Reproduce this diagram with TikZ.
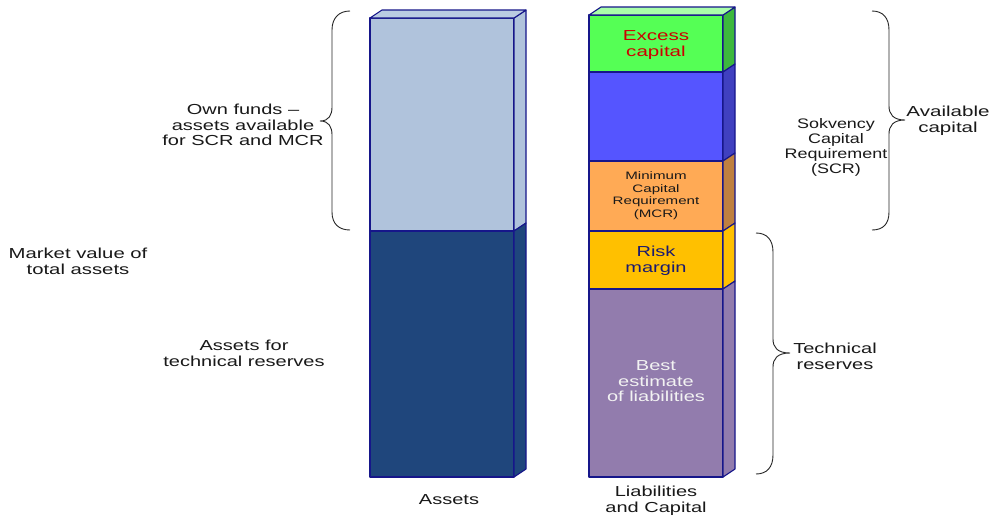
\documentclass[tikz,border=0pt]{standalone}
\usepackage{fontspec}
\setmainfont{Liberation Sans}
\usepackage{graphicx}
\definecolor{navy}{HTML}{16168A}
\definecolor{astop}{HTML}{B0C3DC}
\definecolor{astopface}{HTML}{BACBE2}
\definecolor{asbot}{HTML}{1F467C}
\definecolor{gfront}{HTML}{55FF55}
\definecolor{gside}{HTML}{3DB83D}
\definecolor{gtop}{HTML}{AAFFAA}
\definecolor{bfront}{HTML}{5555FF}
\definecolor{bside}{HTML}{4040C0}
\definecolor{ofront}{HTML}{FFAA55}
\definecolor{oside}{HTML}{BF8040}
\definecolor{yfront}{HTML}{FFC000}
\definecolor{pfront}{HTML}{927CAD}
\definecolor{redtxt}{HTML}{CC0000}
\definecolor{risktxt}{HTML}{1A1A70}
\definecolor{besttxt}{HTML}{F2F2F2}
\newcommand\wtxt[2]{\scalebox{#1}[1]{\begin{tabular}{@{}c@{}}#2\end{tabular}}}
% x0, x1, ytop, ybot, front colour, side colour
\newcommand\barseg[6]{%
  \path[edge, fill=#5] (#1,#3) rectangle (#2,#4);
  \path[edge, fill=#6] (#2,#3) -- (#2+12,#3-8) -- (#2+12,#4-8) -- (#2,#4) -- cycle;}
\begin{document}
\begin{tikzpicture}[x=1pt,y=-1pt,
  edge/.style={draw=navy, line width=1.1pt, line join=round},
  brc/.style={draw=black!85, line width=0.9pt},
  lbl/.style={inner sep=0pt, font=\fontsize{14.5}{15.8}\selectfont, text=black!90},
  small/.style={inner sep=0pt, font=\fontsize{10.8}{12.4}\selectfont, text=black!90}]
\useasboundingbox (0,0) rectangle (996,517);
\fill[white] (0,0) rectangle (996,517);

% Assets bar
\barseg{370}{514}{18}{231}{astop}{astop}
\barseg{370}{514}{231}{477}{asbot}{asbot}
\path[edge, fill=astopface] (370,18) -- (382,10) -- (526,10) -- (514,18) -- cycle;

% Liabilities bar
\barseg{589}{723}{15}{72}{gfront}{gside}
\barseg{589}{723}{72}{161}{bfront}{bside}
\barseg{589}{723}{161}{231}{ofront}{oside}
\barseg{589}{723}{231}{289}{yfront}{yfront}
\barseg{589}{723}{289}{477}{pfront}{pfront}
\path[edge, fill=gtop] (589,15) -- (601,7) -- (735,7) -- (723,15) -- cycle;

% Braces
\draw[brc] (350,11) .. controls (339,11) and (332,18) .. (332,30) -- (332,107)
  .. controls (332,115) and (329,121) .. (320,121)
  .. controls (329,121) and (332,127) .. (332,135) -- (332,212)
  .. controls (332,224) and (339,230) .. (350,230);
\draw[brc] (872,11) .. controls (883,11) and (889,18) .. (889,30) -- (889,106)
  .. controls (889,114) and (893,120) .. (905,120)
  .. controls (893,120) and (889,126) .. (889,134) -- (889,212)
  .. controls (889,224) and (883,230) .. (872,230);
\draw[brc] (756,233) .. controls (767,233) and (773,240) .. (773,252) -- (773,339)
  .. controls (773,347) and (777,353) .. (790,353)
  .. controls (777,353) and (773,359) .. (773,367) -- (773,455)
  .. controls (773,467) and (767,474) .. (756,474);

% Labels
\node[lbl] (own) at (243,127) {\wtxt{1.38}{Own funds --\\assets available\\for SCR and MCR}};
\node[lbl] (mv) at (78,263) {\wtxt{1.4}{Market value of\\total assets}};
\node[lbl] (atr) at (244,355) {\wtxt{1.38}{Assets for\\technical reserves}};
\node[lbl] (assets) at (449,501) {\wtxt{1.38}{Assets}};
\node[lbl] (liab) at (656,501) {\wtxt{1.38}{Liabilities\\and Capital}};
\node[lbl, text=redtxt] (excess) at (656,45) {\wtxt{1.42}{Excess\\capital}};
\node[small] (mcr) at (656,196) {\wtxt{1.4}{Minimum\\Capital\\Requirement\\(MCR)}};
\node[lbl, text=risktxt] (risk) at (656,261) {\wtxt{1.38}{Risk\\margin}};
\node[lbl, text=besttxt] (best) at (656,383) {\wtxt{1.38}{Best\\estimate\\of liabilities}};
\node[lbl, font=\fontsize{13.8}{15}\selectfont] (scr) at (836,148) {\wtxt{1.3}{Sokvency\\Capital\\Requirement\\(SCR)}};
\node[lbl] (avail) at (948,121) {\wtxt{1.42}{Available\\capital}};
\node[lbl] (tech) at (835,358) {\wtxt{1.38}{Technical\\reserves}};
\end{tikzpicture}
\end{document}
